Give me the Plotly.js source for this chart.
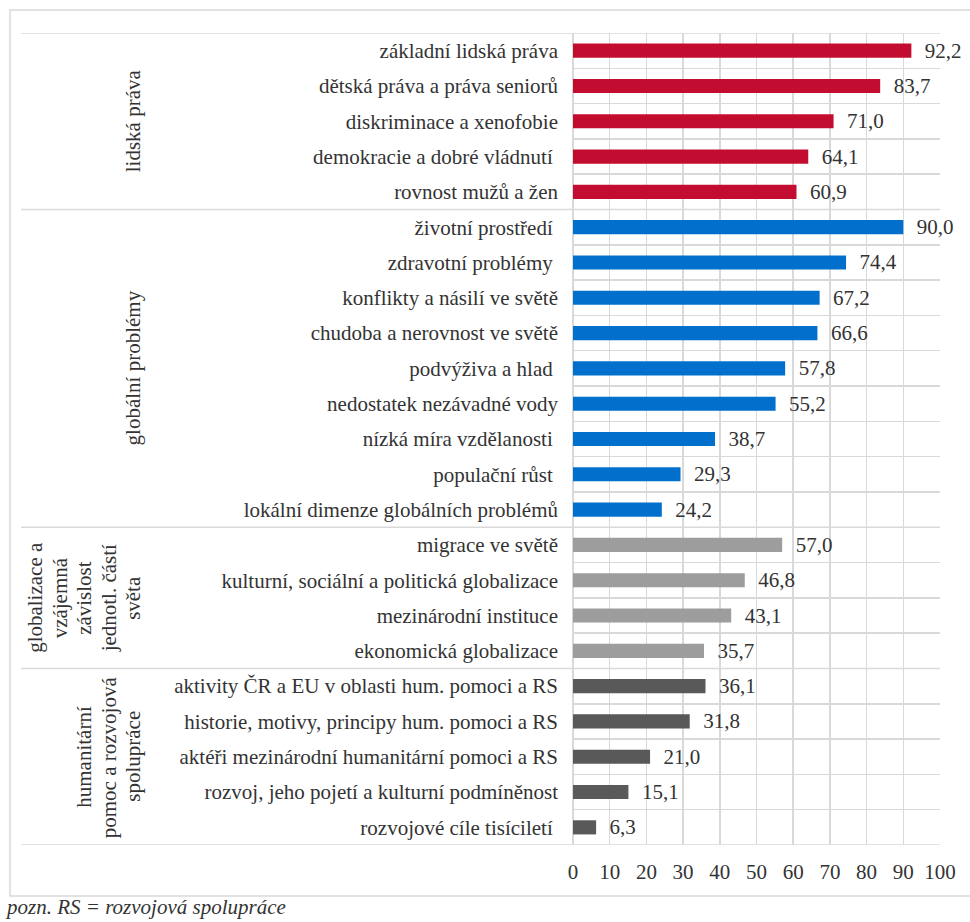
<!DOCTYPE html>
<html>
<head>
<meta charset="utf-8">
<script src="https://cdn.plot.ly/plotly-3.0.1.min.js"></script>
<style>
  html, body { margin: 0; padding: 0; background: #ffffff; }
  #chart { width: 970px; height: 922px; }
</style>
</head>
<body>
<div id="chart"></div>
<script>
// ---- data ----
const groupLabelLines = [
  ["lidská práva"],
  ["globální problémy"],
  ["globalizace a", "vzájemná", "závislost", "jednotl. částí", "světa"],
  ["humanitární", "pomoc a rozvojová", "spolupráce"]
];

const catsHumanRights = [
  "základní lidská práva",
  "dětská práva a práva seniorů",
  "diskriminace a xenofobie",
  "demokracie a dobré vládnutí ",
  "rovnost mužů a žen"
];
const valsHumanRights = [92.2, 83.7, 71.0, 64.1, 60.9];

const catsGlobal = [
  "životní prostředí ",
  "zdravotní problémy ",
  "konflikty a násilí ve světě",
  "chudoba a nerovnost ve světě",
  "podvýživa a hlad ",
  "nedostatek nezávadné vody",
  "nízká míra vzdělanosti ",
  "populační růst ",
  "lokální dimenze globálních problémů"
];
const valsGlobal = [90.0, 74.4, 67.2, 66.6, 57.8, 55.2, 38.7, 29.3, 24.2];

const catsGlobalization = [
  "migrace ve světě",
  "kulturní, sociální a politická globalizace",
  "mezinárodní instituce",
  "ekonomická globalizace"
];
const valsGlobalization = [57.0, 46.8, 43.1, 35.7];

const catsHumanitarian = [
  "aktivity ČR a EU v oblasti hum. pomoci a RS",
  "historie, motivy, principy hum. pomoci a RS",
  "aktéři mezinárodní humanitární pomoci a RS",
  "rozvoj, jeho pojetí a kulturní podmíněnost",
  "rozvojové cíle tisíciletí "
];
const valsHumanitarian = [36.1, 31.8, 21.0, 15.1, 6.3];

const xTickVals = [0, 10, 20, 30, 40, 50, 60, 70, 80, 90, 100];
const footnote = "pozn. RS = rozvojová spolupráce";

// ---- styling ----
const groupCats = [catsHumanRights, catsGlobal, catsGlobalization, catsHumanitarian];
const groupVals = [valsHumanRights, valsGlobal, valsGlobalization, valsHumanitarian];
const groupColors = ["#C30D30", "#0070CC", "#9D9D9D", "#595959"];
const textColor = "#333333";
const lineColor = "#D9D9D9";
const FONT = "Liberation Serif";
const FS = 21;

const allCats = [].concat(...groupCats);

// pixel -> paper helpers (plot area 573..940 x, 33..845 y)
const L = 573, R = 940, T = 33, B = 845;
const px = p => (p - L) / (R - L);
const py = p => (B - p) / (B - T);

const traces = groupCats.map((cats, i) => ({
  type: "bar",
  orientation: "h",
  y: cats,
  x: groupVals[i],
  width: 0.4,
  marker: { color: groupColors[i], line: { width: 0 } },
  text: groupVals[i].map(v => "\u00a0\u00a0" + v.toFixed(1).replace(".", ",")),
  textposition: "outside",
  constraintext: "none",
  cliponaxis: false,
  textfont: { family: FONT, size: FS, color: textColor },
  hoverinfo: "skip",
  showlegend: false
}));

// group boundaries (in category index units)
const bounds = [-0.5];
let acc = 0;
groupCats.forEach(c => { acc += c.length; bounds.push(acc - 0.5); });

const shapes = [];
// outer frame
shapes.push({
  type: "rect", xref: "paper", yref: "paper",
  x0: px(10), x1: px(990), y0: py(896), y1: py(10),
  line: { color: lineColor, width: 1.5 }, fillcolor: "rgba(0,0,0,0)", layer: "below"
});
bounds.forEach(b => {
  shapes.push({
    type: "line", xref: "paper", yref: "y",
    x0: px(21), x1: 1, y0: b, y1: b,
    line: { color: lineColor, width: 1.5 }, layer: "below"
  });
});

const annotations = [];
const LINE_GAP = 24.5, LAST_LINE_X = 133;
groupLabelLines.forEach((lines, i) => {
  const center = (bounds[i] + bounds[i + 1]) / 2;
  lines.forEach((ln, j) => {
    annotations.push({
      xref: "paper", yref: "y",
      x: px(LAST_LINE_X - (lines.length - 1 - j) * LINE_GAP), y: center,
      xanchor: "center", yanchor: "middle",
      text: ln, textangle: -90, showarrow: false,
      font: { family: FONT, size: FS, color: textColor }
    });
  });
});
annotations.push({
  xref: "paper", yref: "paper",
  x: px(3), y: py(907), xanchor: "left", yanchor: "middle",
  text: "<i>" + footnote + "</i>", showarrow: false,
  font: { family: FONT, size: 21, color: textColor }
});

const layout = {
  width: 970, height: 922,
  margin: { l: L, r: 970 - R, t: T, b: 922 - B, pad: 0 },
  paper_bgcolor: "#ffffff", plot_bgcolor: "#ffffff",
  barmode: "overlay",
  separators: ", ",
  font: { family: FONT, size: FS, color: textColor },
  xaxis: {
    range: [0, 100], tickvals: xTickVals, ticktext: xTickVals.map(String),
    showgrid: true, gridcolor: lineColor, gridwidth: 1.5,
    zeroline: true, zerolinecolor: lineColor, zerolinewidth: 1.5,
    showline: false, ticks: "", ticklabelstandoff: 12,
    tickfont: { family: FONT, size: FS, color: textColor },
    fixedrange: true
  },
  yaxis: {
    type: "category", categoryorder: "array", categoryarray: allCats,
    range: [allCats.length - 0.5, -0.5],
    tickson: "boundaries", showgrid: true, gridcolor: lineColor, gridwidth: 1.5,
    showline: false, ticks: "", ticklabelstandoff: 14,
    tickfont: { family: FONT, size: FS, color: textColor },
    fixedrange: true
  },
  shapes: shapes,
  annotations: annotations
};

Plotly.newPlot("chart", traces, layout, { staticPlot: true, displayModeBar: false });
</script>
</body>
</html>
